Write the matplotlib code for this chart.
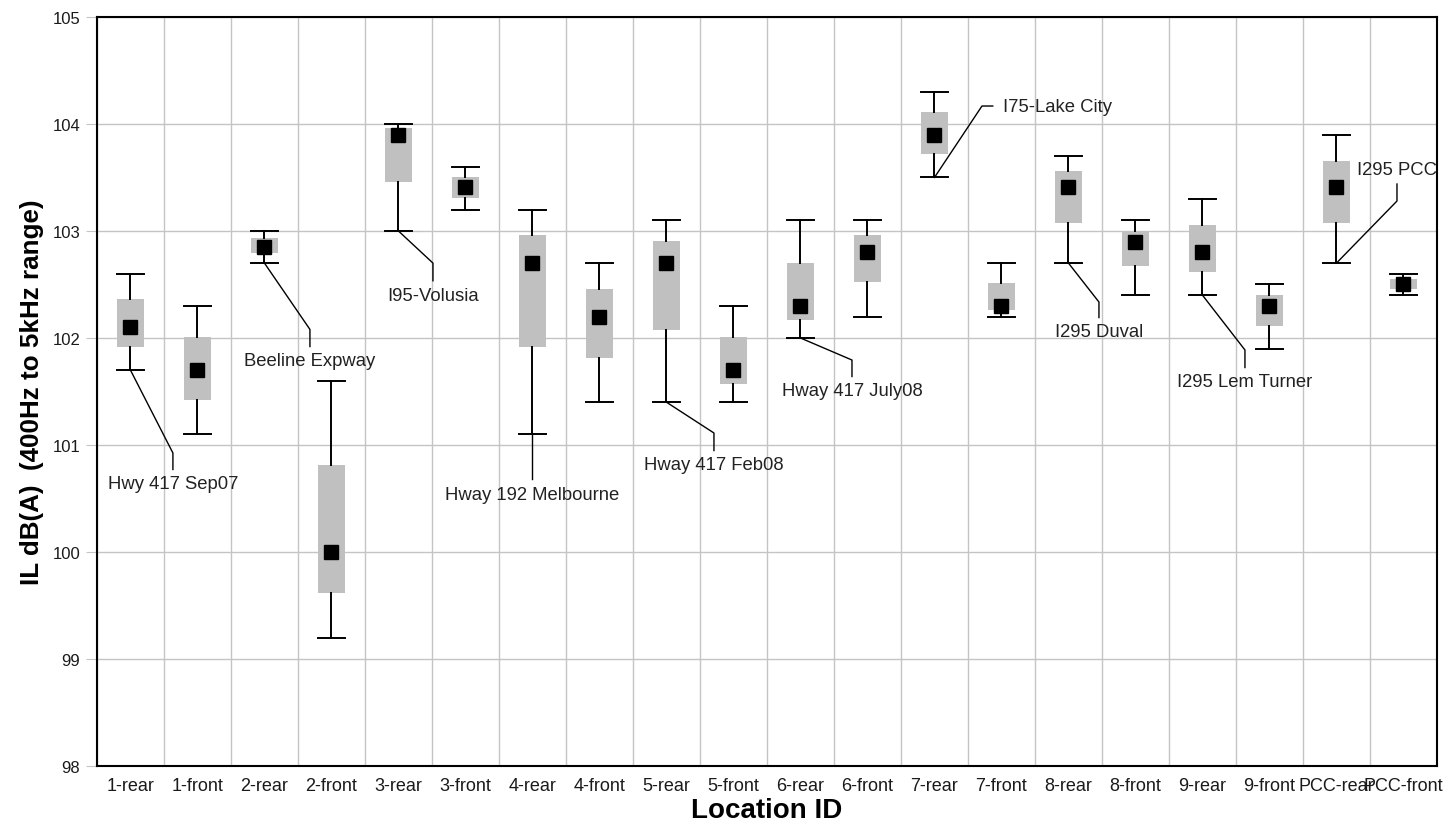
import numpy as np
import matplotlib.pyplot as plt

# location IDs along the x axis
locations = ['1-rear', '1-front', '2-rear', '2-front', '3-rear', '3-front',
             '4-rear', '4-front', '5-rear', '5-front', '6-rear', '6-front',
             '7-rear', '7-front', '8-rear', '8-front', '9-rear', '9-front',
             'PCC-rear', 'PCC-front']

# IL dB(A) statistics
low  = [101.7, 101.1, 102.7, 99.2, 103.0, 103.2, 101.1, 101.4, 101.4, 101.4,
        102.0, 102.2, 103.5, 102.2, 102.7, 102.4, 102.4, 101.9, 102.7, 102.4]
q1   = [101.92, 101.42, 102.79, 99.62, 103.46, 103.31, 101.92, 101.81, 102.07, 101.57,
        102.17, 102.52, 103.72, 102.26, 103.07, 102.67, 102.62, 102.11, 103.07, 102.46]
med  = [102.1, 101.7, 102.85, 100.0, 103.9, 103.41, 102.7, 102.2, 102.7, 101.7,
        102.3, 102.8, 103.9, 102.3, 103.41, 102.9, 102.8, 102.3, 103.41, 102.5]
q3   = [102.36, 102.01, 102.93, 100.81, 103.96, 103.5, 102.96, 102.46, 102.91, 102.01,
        102.7, 102.96, 104.11, 102.51, 103.56, 103.0, 103.06, 102.4, 103.65, 102.55]
high = [102.6, 102.3, 103.0, 101.6, 104.0, 103.6, 103.2, 102.7, 103.1, 102.3,
        103.1, 103.1, 104.3, 102.7, 103.7, 103.1, 103.3, 102.5, 103.9, 102.6]

# site labels: text, category index, elbow x, elbow y, text y
site_labels = [
    ('Hwy 417 Sep07', 0, 0.634, 100.925, 100.636),
    ('Beeline Expway', 2, 2.679, 102.08, 101.785),
    ('I95-Volusia', 4, 4.515, 102.70, 102.40),
    ('Hway 192 Melbourne', 6, None, None, 100.533),
    ('Hway 417 Feb08', 8, 8.709, 101.112, 100.813),
    ('Hway 417 July08', 10, 10.769, 101.794, 101.505),
    ('I295 Duval', 14, 14.455, 102.336, 102.056),
    ('I295 Lem Turner', 16, 16.634, 101.888, 101.589),
    ('I295 PCC', 18, 18.903, 103.28, 103.579),
]

plt.rcParams['font.family'] = ['Liberation Sans', 'DejaVu Sans']

fig = plt.figure(figsize=(14.49, 8.29), dpi=100)
ax = fig.add_axes([0.0669, 0.0748, 0.9248, 0.9035])

x = np.arange(len(locations))
stats = [dict(whislo=a, q1=b, med=c, q3=d, whishi=e)
         for a, b, c, d, e in zip(low, q1, med, q3, high)]
ax.bxp(stats, positions=x, widths=0.39, capwidths=0.39, patch_artist=True,
       showfliers=False, manage_ticks=False,
       boxprops=dict(facecolor='#c0c0c0', edgecolor='none'),
       whiskerprops=dict(color='black', lw=1.4),
       capprops=dict(color='black', lw=1.4),
       medianprops=dict(visible=False))
ax.plot(x, med, 's', color='black', ms=10, zorder=5)

# leader lines + labels
for text, i, ex, ey, ty in site_labels:
    x0, y0 = x[i], low[i]
    if ex is None:
        ax.plot([x0, x0], [y0, ty + 0.15], color='black', lw=1)
        tx = x0
    else:
        yend = ty + 0.135 if ty < ey else ty - 0.14
        ax.plot([x0, ex, ex], [y0, ey, yend], color='black', lw=1)
        tx = ex
    ax.text(tx, ty, text, ha='center', va='center', fontsize=13.3, color='#222222')

# Lake City label uses a horizontal leader
ax.plot([x[12], 12.709, 12.87], [low[12], 104.168, 104.168], color='black', lw=1)
ax.text(13.02, 104.168, 'I75-Lake City', ha='left', va='center', fontsize=13.3,
        color='#222222')

ax.set_xlim(-0.5, len(locations) - 0.5)
ax.set_ylim(98, 105)
ax.set_xticks(x)
ax.set_xticklabels(locations)
ax.set_xticks(np.arange(-0.5, len(locations), 1), minor=True)
ax.set_yticks(np.arange(98, 106, 1))
ax.grid(which='minor', axis='x', color='#c4c4c4', lw=1)
ax.grid(which='major', axis='y', color='#c4c4c4', lw=1)
ax.set_axisbelow(True)

ax.tick_params(axis='x', which='both', length=0, pad=8, labelsize=13, labelcolor='#1a1a1a')
ax.tick_params(axis='y', length=8, color='#c4c4c4', pad=4, labelsize=12, labelcolor='#1a1a1a')
for s in ax.spines.values():
    s.set_linewidth(1.5)
    s.set_color('black')

ax.set_xlabel('Location ID', fontsize=20, fontweight='bold', labelpad=2)
ax.set_ylabel('IL dB(A)  (400Hz to 5kHz range)', fontsize=18.7, fontweight='bold', labelpad=6)

fig.savefig('out.png', dpi=100)
